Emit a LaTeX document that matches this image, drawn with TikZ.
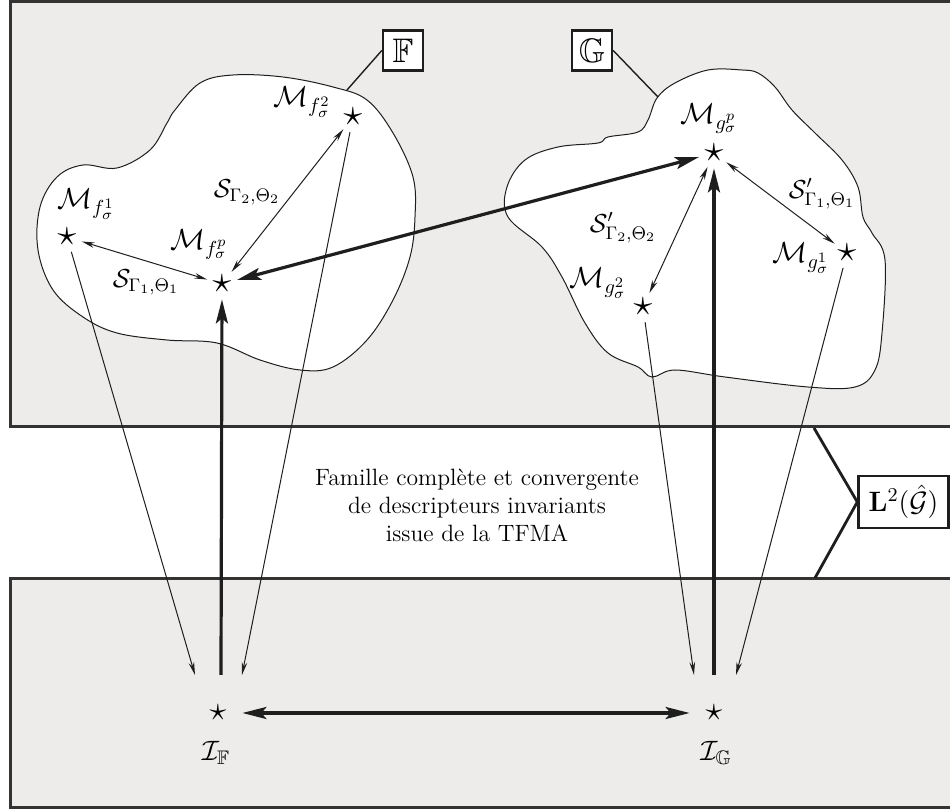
\RequirePackage{fix-cm}
\documentclass[tikz,border=0pt]{standalone}
\usepackage{amsmath,amssymb}
\usetikzlibrary{arrows.meta}
\definecolor{panel}{HTML}{EDECEA}
\definecolor{edge}{HTML}{333333}
\definecolor{ink}{HTML}{1E1E1E}
\begin{document}
\begin{tikzpicture}[x=0.5pt,y=-0.5pt,
  panelbox/.style={draw=edge, fill=panel, line width=1.5pt},
  blob/.style={draw=ink, fill=white, line width=0.5pt},
  starnode/.style={circle, inner sep=0pt, minimum size=15pt, font=\fontsize{19}{19}\selectfont},
  smallstar/.style={circle, inner sep=0pt, minimum size=24pt, font=\fontsize{17}{17}\selectfont},
  mlabel/.style={inner sep=0pt, font=\fontsize{14.5}{16}\selectfont},
  slabel/.style={inner sep=0pt, font=\fontsize{13}{15}\selectfont},
  ilabel/.style={inner sep=0pt, font=\fontsize{14}{16}\selectfont},
  setbox/.style={draw=ink, line width=1.2pt, fill=white, minimum width=20pt, minimum height=20pt, inner sep=1pt, font=\fontsize{17}{17}\selectfont},
  thin/.style={draw=ink, line width=0.5pt},
  thinto/.style={thin, -{Stealth[length=6.5pt,width=2.8pt]}},
  thinboth/.style={thin, {Stealth[length=6.5pt,width=2.8pt]}-{Stealth[length=6.5pt,width=2.8pt]}},
  thickto/.style={draw=ink, line width=1.6pt, -{Stealth[length=12pt,width=6pt,inset=2.5pt]}},
  thickboth/.style={draw=ink, line width=1.6pt, {Stealth[length=12pt,width=6pt,inset=2.5pt]}-{Stealth[length=12pt,width=6pt,inset=2.5pt]}},
  wedge/.style={draw=ink, line width=1.4pt}
]
\useasboundingbox (0,0) rectangle (950,812);
\clip (0,0) rectangle (950,812);
\fill[white] (0,0) rectangle (950,812);

% panels
\draw[panelbox] (10,2) rectangle (990,427);
\draw[panelbox] (10,579) rectangle (990,808);

% blob F
\draw[blob] plot[smooth cycle, tension=0.6] coordinates {
 (175,110) (200,83) (233,75) (283,77) (333,87) (367,100) (393,133) (413,177)
 (415,217) (410,257) (393,300) (367,340) (333,367) (300,370) (260,360)
 (217,343) (167,340) (117,333) (83,317) (53,290) (38,250) (40,207) (57,177)
 (83,165) (117,168) (150,150) (167,123)};

% blob G
\draw[blob] plot[smooth cycle, tension=0.6] coordinates {
 (742,70) (708,70) (675,83) (657,98) (648,120) (638,132) (608,137) (598,143)
 (558,147) (525,160) (507,187) (508,217) (542,247) (562,277) (585,323)
 (608,353) (638,367) (652,377) (675,370) (725,377) (808,387) (855,387)
 (875,370) (882,333) (885,260) (872,233) (863,217) (858,187) (842,160)
 (815,133) (792,110) (775,87) (758,73)};

% set labels
\node[setbox] (Fbox) at (403,50.5) {$\mathbb{F}$};
\node[setbox] (Gbox) at (592,50.5) {$\mathbb{G}$};
\coordinate (Ftouch) at (347,90);
\coordinate (Gtouch) at (658,97);
\draw[thin, line width=0.7pt] (Fbox.west) -- (Ftouch);
\draw[thin, line width=0.7pt] (Gbox.east) -- (Gtouch);

% L2 label and wedge
\node[draw=ink, line width=1.2pt, fill=white, inner sep=3pt, minimum width=45pt, minimum height=26pt, font=\fontsize{14}{16}\selectfont] (L2) at (903.5,502) {$\mathbf{L}^2(\hat{\mathcal{G}})$};
\coordinate (wtop) at (814,428);
\coordinate (wbot) at (815,578);
\draw[wedge] (wtop) -- (L2.west) -- (wbot);

% middle text
\node[align=center, inner sep=0pt, font=\fontsize{11.8}{14}\selectfont] (txt) at (477,505)
 {Famille complète et convergente\\de descripteurs invariants\\issue de la TFMA};

% stars
\node[starnode] (f1) at (67,237) {$\star$};
\node[starnode] (fp) at (222,284) {$\star$};
\node[starnode] (f2) at (353,117) {$\star$};
\node[starnode] (gp) at (714,153) {$\star$};
\node[starnode] (g1) at (847,253) {$\star$};
\node[starnode] (g2) at (643,307) {$\star$};
\node[smallstar] (IF) at (218,713) {$\star$};
\node[smallstar] (IG) at (714,713) {$\star$};

% labels
\node[mlabel] (lf1) at (86,204) {$\mathcal{M}_{f^1_\sigma}$};
\node[mlabel] (lfp) at (199,245) {$\mathcal{M}_{f^p_\sigma}$};
\node[mlabel] (lf2) at (302,102) {$\mathcal{M}_{f^2_\sigma}$};
\node[mlabel] (lgp) at (709,119) {$\mathcal{M}_{g^p_\sigma}$};
\node[mlabel] (lg1) at (801,258) {$\mathcal{M}_{g^1_\sigma}$};
\node[mlabel] (lg2) at (598,283) {$\mathcal{M}_{g^2_\sigma}$};
\node[slabel] (s1) at (146,282) {$\mathcal{S}_{\Gamma_1,\Theta_1}$};
\node[slabel] (s2) at (247,192) {$\mathcal{S}_{\Gamma_2,\Theta_2}$};
\node[slabel] (s1p) at (822,194) {$\mathcal{S}'_{\Gamma_1,\Theta_1}$};
\node[slabel] (s2p) at (623,228) {$\mathcal{S}'_{\Gamma_2,\Theta_2}$};
\node[ilabel] (lIF) at (216,753) {$\mathcal{I}_{\mathbb{F}}$};
\node[ilabel] (lIG) at (716,753) {$\mathcal{I}_{\mathbb{G}}$};

% arrow end points above the bottom stars
\coordinate (inFa) at (195,675);
\coordinate (inFb) at (221,675);
\coordinate (inFc) at (242,675);
\coordinate (inGa) at (694,675);
\coordinate (inGb) at (714,675);
\coordinate (inGc) at (736,675);

% connectors within sets
\draw[thinboth] (f1) -- (fp);
\draw[thinboth] (fp) -- (f2);
\draw[thinboth] (gp) -- (g2);
\draw[thinboth] (gp) -- (g1);
\draw[thickboth] (gp) -- (fp);

% projections
\draw[thinto] (f1) -- (inFa);
\draw[thinto] (f2) -- (inFc);
\draw[thinto] (g2) -- (inGa);
\draw[thinto] (g1) -- (inGc);
\draw[thickto] (inFb) -- (fp);
\draw[thickto] (inGb) -- (gp);
\draw[thickboth] (IF) -- (IG);
\end{tikzpicture}
\end{document}
